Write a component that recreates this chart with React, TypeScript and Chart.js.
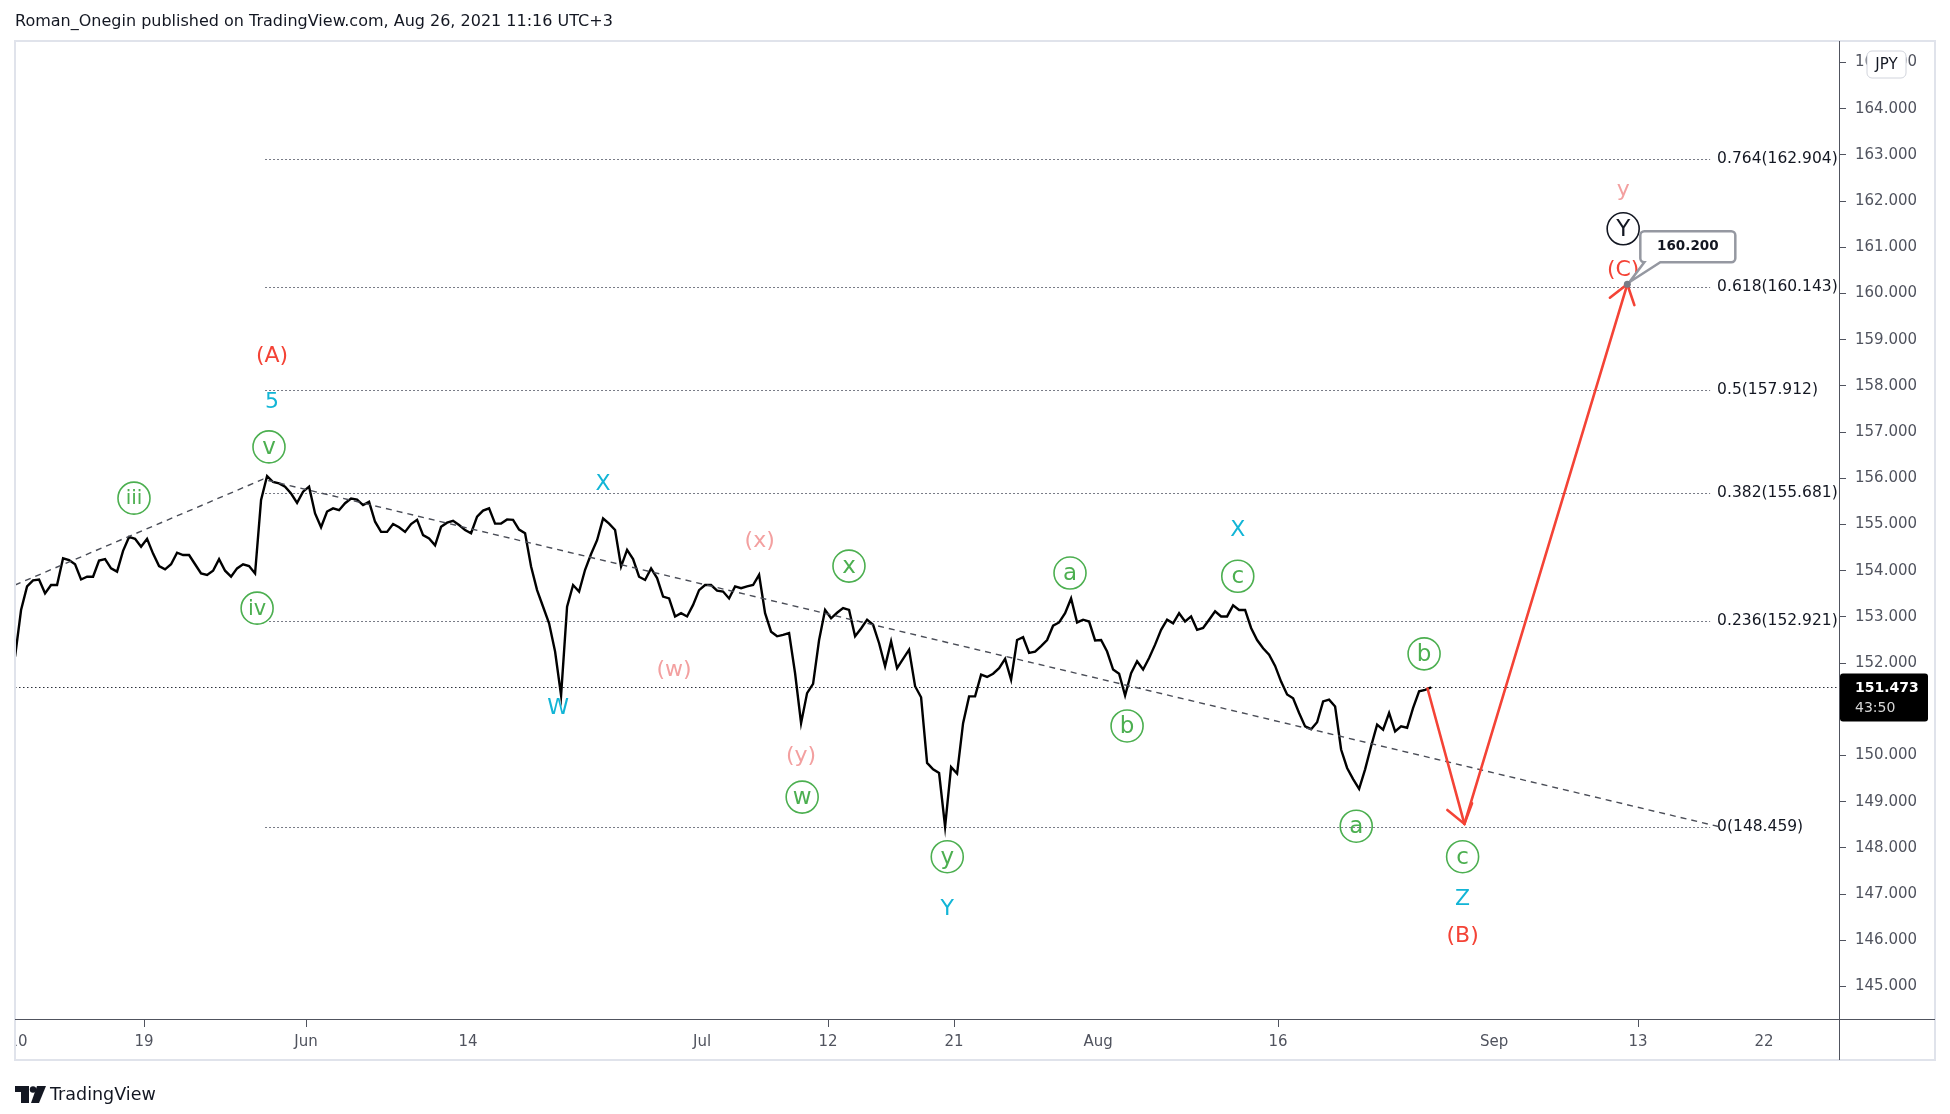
import React, { useEffect, useRef } from "react";
import { Chart, registerables } from "chart.js";

Chart.register(...registerables);

// ---------------- DATA ----------------
// Trading-day index: 0 = May 10 2021 (weekends removed). Price samples every 1/3 trading day.
const seriesStartDay = -1 / 6;
const seriesStepDays = 1 / 3;

// May 10 - Jun 4
const pricesSeg1 = [
  152.14, 153.15, 153.66, 153.79, 153.81, 153.51, 153.69, 153.69, 154.27, 154.23,
  154.14, 153.81, 153.87, 153.87, 154.22, 154.25, 154.05, 153.98, 154.43, 154.73,
  154.69, 154.52, 154.69, 154.37, 154.10, 154.03, 154.14, 154.39, 154.34, 154.34,
  154.14, 153.94, 153.91, 154.00, 154.25, 154.00, 153.87, 154.05, 154.14, 154.10,
  153.94, 155.53, 156.05, 155.92, 155.89, 155.82, 155.67, 155.47, 155.71, 155.82,
  155.24, 154.94, 155.28, 155.35, 155.31, 155.46, 155.56, 155.54, 155.42, 155.49,
  155.06,
];
// Jun 7 - Jun 30
const pricesSeg2 = [
  154.84, 154.84, 155.01, 154.94, 154.84, 155.01, 155.10, 154.77, 154.70, 154.55,
  154.95, 155.04, 155.08, 154.99, 154.88, 154.81, 155.17, 155.30, 155.35, 155.02,
  155.02, 155.11, 155.10, 154.89, 154.81, 154.09, 153.58, 153.22, 152.86, 152.25,
  151.30, 153.22, 153.69, 153.55, 154.02, 154.36, 154.66, 155.13, 155.02, 154.88,
  154.09, 154.45, 154.25, 153.87, 153.80, 154.05, 153.84, 153.44, 153.40, 153.01,
  153.08, 153.01, 153.26, 153.58, 153.69, 153.69, 153.57, 153.55, 153.40, 153.66,
];
// Jul 1 - Jul 27
const pricesSeg3 = [
  153.62, 153.66, 153.69, 153.91, 153.08, 152.68, 152.58, 152.61, 152.65, 151.78,
  150.70, 151.35, 151.55, 152.50, 153.15, 152.97, 153.09, 153.19, 153.15, 152.58,
  152.75, 152.94, 152.83, 152.43, 151.93, 152.47, 151.89, 152.09, 152.29, 151.50,
  151.26, 149.84, 149.70, 149.62, 148.46, 149.75, 149.61, 150.70, 151.28, 151.28,
  151.75, 151.70, 151.77, 151.89, 152.09, 151.64, 152.50, 152.56, 152.22, 152.25,
  152.37, 152.50, 152.81, 152.88, 153.08, 153.40, 152.88, 152.94, 152.90, 152.49,
];
// Jul 28 - Aug 26
const pricesSeg4 = [
  152.50, 152.25, 151.86, 151.77, 151.30, 151.78, 152.04, 151.86, 152.11, 152.40,
  152.72, 152.94, 152.86, 153.08, 152.90, 153.01, 152.72, 152.76, 152.94, 153.12,
  153.01, 153.01, 153.25, 153.15, 153.15, 152.76, 152.50, 152.32, 152.18, 151.94,
  151.60, 151.32, 151.24, 150.92, 150.63, 150.57, 150.72, 151.17, 151.21, 151.06,
  150.13, 149.73, 149.49, 149.28, 149.70, 150.20, 150.67, 150.56, 150.92, 150.52,
  150.63, 150.60, 151.03, 151.39, 151.42, 151.473,
];

const xTickDays = [0, 7, 16, 25, 38, 45, 52, 60, 70, 82, 90, 97];
const xTickLabels = ["10", "19", "Jun", "14", "Jul", "12", "21", "Aug", "16", "Sep", "13", "22"];
const xTickMarked = [false, true, true, false, false, true, true, false, true, false, true, false];
const yTickValues = [145, 146, 147, 148, 149, 150, 151, 152, 153, 154, 155, 156, 157, 158, 159, 160, 161, 162, 163, 164, 165];

const fibRatios = ["0.764", "0.618", "0.5", "0.382", "0.236", "0"];
const fibPrices = [162.904, 160.143, 157.912, 155.681, 152.921, 148.459];
const fibStartDay = 13.72;
const fibEndDay = 94.0;

const trendDays = [-0.17, 13.61, 94.5];
const trendPrices = [153.69, 155.98, 148.46];

const lastPrice = 151.473;
const lastPriceCountdown = "43:50";
const currencyLabel = "JPY";

const projectionDays = [78.3, 80.35, 89.4];
const projectionPrices = [151.45, 148.52, 160.2];
const targetText = "160.200";

const waveTexts = ["(A)", "5", "v", "iii", "iv", "X", "W", "(x)", "(w)", "x", "(y)", "w", "y", "Y", "a", "b", "X", "c", "a", "b", "c", "Z", "(B)", "y", "Y", "(C)"];
const waveDays = [14.11, 14.11, 13.94, 6.44, 13.28, 32.5, 30.0, 41.2, 36.44, 46.16, 43.5, 43.56, 51.62, 51.62, 58.44, 61.61, 67.76, 67.76, 74.34, 78.11, 80.25, 80.25, 80.25, 89.17, 89.17, 89.17];
const wavePrices = [158.65, 157.65, 156.68, 155.57, 153.19, 155.86, 151.02, 154.64, 151.85, 154.10, 149.99, 149.10, 147.81, 146.68, 153.95, 150.64, 154.88, 153.88, 148.47, 152.20, 147.81, 146.88, 146.08, 162.24, 161.40, 160.51];
const waveDegrees = ["primary", "intermediate", "minute", "minute", "minute", "intermediate", "intermediate", "minor", "minor", "minute", "minor", "minute", "minute", "intermediate", "minute", "minute", "intermediate", "minute", "minute", "minute", "minute", "intermediate", "primary", "minor", "cycle", "primary"];

const headerText = "Roman_Onegin published on TradingView.com, Aug 26, 2021 11:16 UTC+3";
const footerText = "TradingView";

// ---------------- STYLE ----------------
const FONT = '"DejaVu Sans", "Noto Sans", sans-serif';
const AXIS = "#50535e";
const TEXT = "#131722";
const RED = "#f44336";
const BLUE = "#12b5d6";
const PINK = "#f3a0a0";
const GREEN = "#4caf50";

function arrowHead(ctx: CanvasRenderingContext2D, fx: number, fy: number, tx: number, ty: number, len: number) {
  const a = Math.atan2(ty - fy, tx - fx);
  const h = 0.62;
  ctx.beginPath();
  ctx.moveTo(tx - len * Math.cos(a - h), ty - len * Math.sin(a - h));
  ctx.lineTo(tx, ty);
  ctx.lineTo(tx - len * Math.cos(a + h), ty - len * Math.sin(a + h));
  ctx.stroke();
}

function roundRectPath(ctx: CanvasRenderingContext2D, x: number, y: number, w: number, h: number, r: number) {
  ctx.beginPath();
  ctx.moveTo(x + r, y);
  ctx.lineTo(x + w - r, y);
  ctx.arcTo(x + w, y, x + w, y + r, r);
  ctx.lineTo(x + w, y + h - r);
  ctx.arcTo(x + w, y + h, x + w - r, y + h, r);
  ctx.lineTo(x + r, y + h);
  ctx.arcTo(x, y + h, x, y + h - r, r);
  ctx.lineTo(x, y + r);
  ctx.arcTo(x, y, x + r, y, r);
  ctx.closePath();
}

export default function App() {
  const ref = useRef<HTMLCanvasElement>(null);

  useEffect(() => {
    document.body.style.margin = "0";
    const canvas = ref.current;
    if (!canvas) return;

    const allPrices = [...pricesSeg1, ...pricesSeg2, ...pricesSeg3, ...pricesSeg4];
    const points = allPrices.map((p, i) => ({ x: seriesStartDay + i * seriesStepDays, y: p }));

    const overlay = {
      id: "overlay",
      beforeDatasetsDraw(chart: any) {
        const ctx: CanvasRenderingContext2D = chart.ctx;
        const xs = chart.scales.x;
        const ys = chart.scales.y;
        const area = chart.chartArea;
        ctx.save();
        ctx.beginPath();
        ctx.rect(area.left, area.top, area.right - area.left, area.bottom - area.top);
        ctx.clip();
        const x0 = xs.getPixelForValue(fibStartDay);
        const x1 = xs.getPixelForValue(fibEndDay);
        ctx.strokeStyle = "#787b86";
        ctx.lineWidth = 1;
        ctx.setLineDash([2, 2]);
        fibPrices.forEach((p) => {
          const y = Math.round(ys.getPixelForValue(p)) + 0.5;
          ctx.beginPath();
          ctx.moveTo(x0, y);
          ctx.lineTo(x1, y);
          ctx.stroke();
        });
        ctx.setLineDash([]);
        ctx.fillStyle = TEXT;
        ctx.font = `15.5px ${FONT}`;
        ctx.textAlign = "left";
        ctx.textBaseline = "middle";
        fibPrices.forEach((p, i) => {
          const y = ys.getPixelForValue(p);
          ctx.fillText(`${fibRatios[i]}(${p.toFixed(3)})`, x1 + 7, y);
        });
        const yl = Math.round(ys.getPixelForValue(lastPrice)) + 0.5;
        ctx.strokeStyle = "#2a2e39";
        ctx.setLineDash([1.5, 2.5]);
        ctx.beginPath();
        ctx.moveTo(area.left, yl);
        ctx.lineTo(area.right, yl);
        ctx.stroke();
        ctx.setLineDash([]);
        ctx.restore();
      },
      afterDatasetsDraw(chart: any) {
        const ctx: CanvasRenderingContext2D = chart.ctx;
        const xs = chart.scales.x;
        const ys = chart.scales.y;
        const area = chart.chartArea;
        const P = (d: number, v: number) => [xs.getPixelForValue(d), ys.getPixelForValue(v)];
        ctx.save();
        ctx.beginPath();
        ctx.rect(area.left, area.top, area.right - area.left, area.bottom - area.top);
        ctx.clip();

        // trend line
        ctx.strokeStyle = "#4a4d57";
        ctx.lineWidth = 1.4;
        ctx.setLineDash([6, 5]);
        ctx.beginPath();
        trendDays.forEach((d, i) => {
          const [x, y] = P(d, trendPrices[i]);
          if (i === 0) ctx.moveTo(x, y);
          else ctx.lineTo(x, y);
        });
        ctx.stroke();
        ctx.setLineDash([]);

        // projection arrows
        const pts = projectionDays.map((d, i) => P(d, projectionPrices[i]));
        ctx.strokeStyle = RED;
        ctx.lineWidth = 2.6;
        ctx.lineCap = "round";
        ctx.beginPath();
        ctx.moveTo(pts[0][0], pts[0][1]);
        ctx.lineTo(pts[1][0], pts[1][1]);
        ctx.stroke();
        arrowHead(ctx, pts[0][0], pts[0][1], pts[1][0], pts[1][1], 22);
        ctx.beginPath();
        ctx.moveTo(pts[1][0], pts[1][1]);
        ctx.lineTo(pts[2][0], pts[2][1]);
        ctx.stroke();
        arrowHead(ctx, pts[1][0], pts[1][1], pts[2][0], pts[2][1], 22);
        ctx.lineCap = "butt";

        // wave labels
        ctx.textAlign = "center";
        ctx.textBaseline = "middle";
        waveTexts.forEach((t, i) => {
          const [x, y] = P(waveDays[i], wavePrices[i]);
          const deg = waveDegrees[i];
          if (deg === "minute" || deg === "cycle") {
            const col = deg === "cycle" ? "#131722" : GREEN;
            ctx.strokeStyle = col;
            ctx.lineWidth = 1.6;
            ctx.beginPath();
            ctx.arc(x, y, 16, 0, Math.PI * 2);
            ctx.stroke();
            ctx.fillStyle = col;
            ctx.font = `${t.length > 2 ? 20 : t.length > 1 ? 21 : 23}px ${FONT}`;
            ctx.fillText(t, x, y + 1);
          } else {
            ctx.fillStyle = deg === "primary" ? RED : deg === "intermediate" ? BLUE : PINK;
            ctx.font = `22px ${FONT}`;
            ctx.fillText(t, x, y);
          }
        });

        // target callout
        const [ax, ay] = pts[2];
        const bx = ax + 13, by = ay - 53, bw = 95, bh = 31, r = 4;
        ctx.beginPath();
        ctx.moveTo(bx + r, by);
        ctx.lineTo(bx + bw - r, by);
        ctx.arcTo(bx + bw, by, bx + bw, by + r, r);
        ctx.lineTo(bx + bw, by + bh - r);
        ctx.arcTo(bx + bw, by + bh, bx + bw - r, by + bh, r);
        ctx.lineTo(ax + 33, by + bh);
        ctx.lineTo(ax + 2, ay - 2);
        ctx.lineTo(ax + 17, by + bh);
        ctx.lineTo(bx + r, by + bh);
        ctx.arcTo(bx, by + bh, bx, by + bh - r, r);
        ctx.lineTo(bx, by + r);
        ctx.arcTo(bx, by, bx + r, by, r);
        ctx.closePath();
        ctx.fillStyle = "#ffffff";
        ctx.fill();
        ctx.strokeStyle = "#9598a1";
        ctx.lineWidth = 2.5;
        ctx.stroke();
        ctx.fillStyle = "#787b86";
        ctx.beginPath();
        ctx.arc(ax, ay, 3.5, 0, Math.PI * 2);
        ctx.fill();
        ctx.fillStyle = TEXT;
        ctx.font = `bold 13.5px ${FONT}`;
        ctx.fillText(targetText, bx + bw / 2, by + bh / 2);
        ctx.restore();
      },
      afterDraw(chart: any) {
        const ctx: CanvasRenderingContext2D = chart.ctx;
        const ys = chart.scales.y;
        const area = chart.chartArea;
        ctx.save();
        ctx.fillStyle = "#ffffff";
        ctx.fillRect(0, area.bottom + 1, area.left - 1, 40);
        ctx.strokeStyle = "#e0e3eb";
        ctx.lineWidth = 2;
        ctx.strokeRect(area.left, area.top, 1935 - area.left, 1060 - area.top);
        ctx.strokeStyle = AXIS;
        ctx.lineWidth = 1;
        ctx.beginPath();
        ctx.moveTo(area.right + 0.5, area.top);
        ctx.lineTo(area.right + 0.5, 1060);
        ctx.moveTo(area.left, area.bottom + 0.5);
        ctx.lineTo(1935, area.bottom + 0.5);
        ctx.stroke();
        roundRectPath(ctx, 1867, 51, 39, 27, 5);
        ctx.fillStyle = "#ffffff";
        ctx.fill();
        ctx.strokeStyle = "#d1d4dc";
        ctx.lineWidth = 1;
        ctx.stroke();
        ctx.fillStyle = TEXT;
        ctx.font = `15px ${FONT}`;
        ctx.textAlign = "center";
        ctx.textBaseline = "middle";
        ctx.fillText(currencyLabel, 1886.5, 65);
        const yl = ys.getPixelForValue(lastPrice);
        ctx.fillStyle = "#000000";
        roundRectPath(ctx, area.right + 1, yl - 14, 88, 48, 3);
        ctx.fill();
        ctx.textAlign = "left";
        ctx.fillStyle = "#ffffff";
        ctx.font = `bold 14px ${FONT}`;
        ctx.fillText(lastPrice.toFixed(3), 1855, yl + 1);
        ctx.fillStyle = "#d6d6d6";
        ctx.font = `14px ${FONT}`;
        ctx.fillText(lastPriceCountdown, 1855, yl + 21);
        ctx.fillStyle = TEXT;
        ctx.font = `16px ${FONT}`;
        ctx.fillText(headerText, 15, 22);
        ctx.fillStyle = "#131722";
        ctx.fillRect(15, 1086, 14, 6);
        ctx.fillRect(21, 1086, 8, 17);
        ctx.beginPath();
        ctx.arc(33, 1089.5, 3.2, 0, Math.PI * 2);
        ctx.fill();
        ctx.beginPath();
        ctx.moveTo(37, 1086);
        ctx.lineTo(46, 1086);
        ctx.lineTo(39, 1103);
        ctx.lineTo(31, 1103);
        ctx.closePath();
        ctx.fill();
        ctx.font = `17.5px ${FONT}`;
        ctx.fillText(footerText, 50, 1095);
        ctx.restore();
      },
    };

    const chart = new Chart(canvas, {
      type: "line",
      data: {
        datasets: [
          {
            data: points,
            borderColor: "#000000",
            borderWidth: 2.4,
            borderJoinStyle: "miter",
            pointRadius: 0,
            tension: 0,
            fill: false,
          },
        ],
      },
      options: {
        responsive: false,
        devicePixelRatio: 1,
        animation: false,
        events: [],
        layout: { padding: { left: 15, top: 41, right: 11, bottom: 54 } },
        plugins: { legend: { display: false }, tooltip: { enabled: false }, title: { display: false } },
        scales: {
          x: {
            type: "linear",
            min: -0.17,
            max: 101.16,
            afterBuildTicks: (s: any) => {
              s.ticks = xTickDays.map((v) => ({ value: v }));
            },
            afterFit: (s: any) => {
              s.height = 41;
            },
            grid: {
              drawOnChartArea: false,
              drawTicks: true,
              tickLength: 8,
              color: (c: any) => (xTickMarked[c.index] ? AXIS : "rgba(0,0,0,0)"),
            },
            border: { display: true, color: AXIS, width: 1 },
            ticks: {
              autoSkip: false,
              maxRotation: 0,
              padding: 6,
              color: AXIS,
              font: { family: FONT, size: 15 },
              callback: (_v: any, i: number) => xTickLabels[i],
            },
          },
          y: {
            type: "linear",
            position: "right",
            min: 144.297,
            max: 165.465,
            afterBuildTicks: (s: any) => {
              s.ticks = yTickValues.map((v) => ({ value: v }));
            },
            afterFit: (s: any) => {
              s.width = 100;
            },
            grid: { drawOnChartArea: false, drawTicks: true, tickLength: 7, color: AXIS },
            border: { display: true, color: AXIS, width: 1 },
            ticks: {
              padding: 9,
              color: AXIS,
              font: { family: FONT, size: 15 },
              callback: (v: any) => Number(v).toFixed(3),
            },
          },
        },
      },
      plugins: [overlay],
    } as any);

    return () => chart.destroy();
  }, []);

  return (
    <div style={{ position: "absolute", left: 0, top: 0, width: 1950, height: 1114, background: "#ffffff" }}>
      <canvas ref={ref} width={1950} height={1114} style={{ display: "block", width: 1950, height: 1114 }} />
    </div>
  );
}
